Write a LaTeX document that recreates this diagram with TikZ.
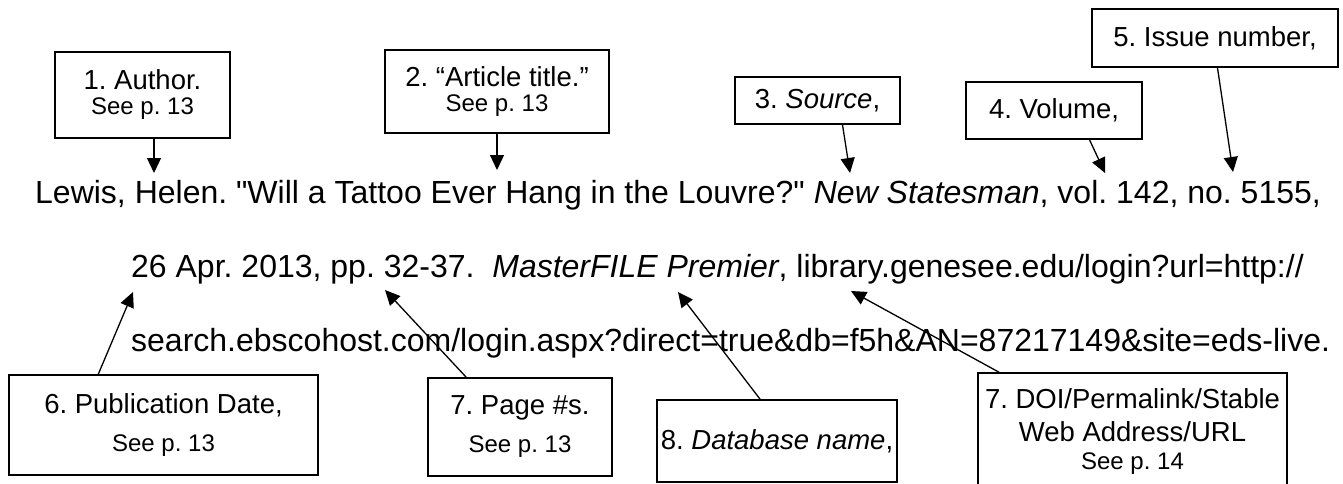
\documentclass[tikz,border=0pt]{standalone}
\usepackage{fontspec}
\setmainfont{Liberation Sans}[Ligatures=TeXOff]
\usetikzlibrary{arrows.meta, calc}

\tikzset{
  box/.style={draw, line width=1.6pt, align=center, inner sep=0pt,
    font=\fontsize{27.5}{32}\selectfont},
  pointer/.style={line width=1.3pt, -{Triangle[length=15pt,width=14pt]}},
  cite/.style={anchor=base west, inner sep=0pt, font=\fontsize{32}{37}\selectfont}
}
\newcommand\seep[1]{{\fontsize{24}{28}\selectfont See p. #1}}
\frenchspacing

\begin{document}
\begin{tikzpicture}[x=1pt, y=-1pt]
  \useasboundingbox (0,0) rectangle (1343,484);
  \clip (0,0) rectangle (1343,484);
  %citation
  \node[cite] (line1) at (35,203) {Lewis, Helen. "Will a Tattoo Ever Hang in the Louvre?" \textit{New Statesman}, vol. 142, no. 5155,};
  \node[cite] (line2) at (131,277) {26 Apr. 2013, pp. 32-37.\ \ \textit{MasterFILE Premier}, library.genesee.edu/login?url=http://};
  \node[cite] (line3) at (131,351) {search.ebscohost.com/login.aspx?direct=true\&db=f5h\&AN=87217149\&site=eds-live.};
  %where the arrows point
  \coordinate (t1) at (154,173);
  \coordinate (t2) at (497,170);
  \coordinate (t3) at (850,173);
  \coordinate (t4) at (1105,173);
  \coordinate (t5) at (1233,172);
  \coordinate (t6) at (133,292);
  \coordinate (t7) at (385,290);
  \coordinate (t8) at (678,292);
  \coordinate (t9) at (851,291);
  %labels
  \node[box, minimum width=175pt, minimum height=86pt] (author) at (142.5,95) {1. Author.\\[-7pt]\seep{13}};
  \node[box, minimum width=224pt, minimum height=83pt] (title) at (497,91.5) {2. “Article title.”\\[-7pt]\seep{13}};
  \node[box, minimum width=165pt, minimum height=47pt] (source) at (817.5,100.5) {3. \textit{Source},};
  \node[box, minimum width=176pt, minimum height=57pt] (volume) at (1054,110.5) {4. Volume,};
  \node[box, minimum width=246pt, minimum height=58pt] (issue) at (1215,38) {5. Issue number,};
  \node[box, minimum width=309pt, minimum height=100pt] (date) at (163.5,425) {6. Publication Date,\\[6pt]\seep{13}};
  \node[box, minimum width=184pt, minimum height=98pt] (pages) at (520,427) {7. Page \#s.\\[6pt]\seep{13}};
  \node[box, minimum width=240pt, minimum height=82pt] (dbase) at (777,441) {8. \textit{Database name},};
  \node[box, minimum width=309pt, minimum height=117pt] (url) at (1132.5,431.5) {7. DOI/Permalink/Stable\\[1pt]Web Address/URL\\[-4pt]\seep{14}};
  %arrows
  \draw[pointer] (author.south -| t1) -- (t1);
  \draw[pointer] (title.south -| t2) -- (t2);
  \draw[pointer] ($(source.south west)!.65!(source.south east)$) -- (t3);
  \draw[pointer] ($(volume.south west)!.70!(volume.south east)$) -- (t4);
  \draw[pointer] ($(issue.south west)!.51!(issue.south east)$) -- (t5);
  \draw[pointer] ($(date.north west)!.29!(date.north east)$) -- (t6);
  \draw[pointer] ($(pages.north west)!.21!(pages.north east)$) -- (t7);
  \draw[pointer] ($(dbase.north west)!.43!(dbase.north east)$) -- (t8);
  \draw[pointer] ($(url.north west)!.07!(url.north east)$) -- (t9);
\end{tikzpicture}
\end{document}
